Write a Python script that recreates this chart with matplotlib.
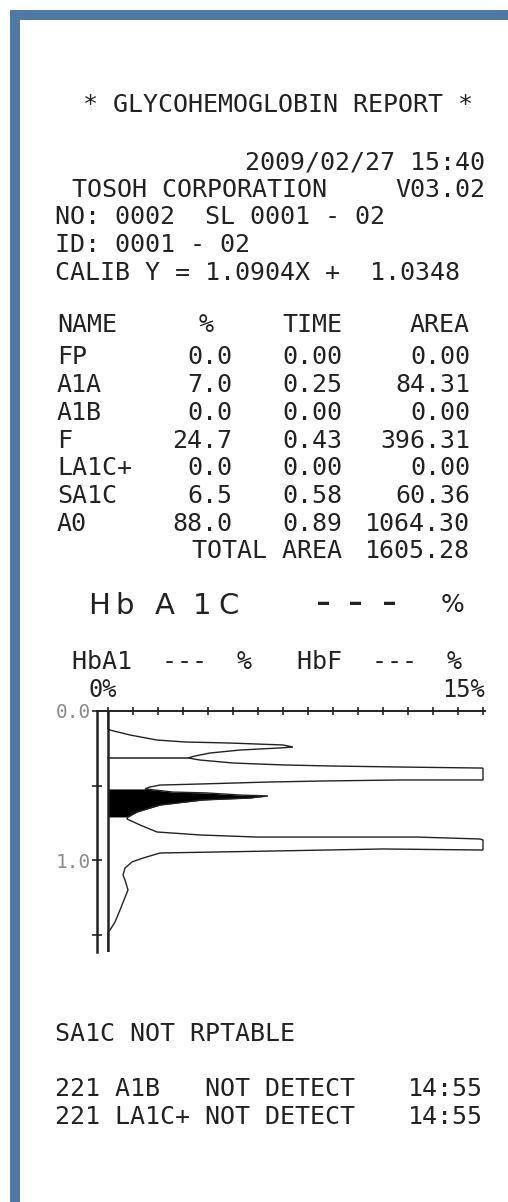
import numpy as np
import matplotlib
matplotlib.use("Agg")
import matplotlib.pyplot as plt

# ---- report text ----
report_title = "* GLYCOHEMOGLOBIN REPORT *"
run_stamp = "2009/02/27 15:40"
maker = "TOSOH CORPORATION"
version = "V03.02"
sample_lines = ["NO: 0002  SL 0001 - 02", "ID: 0001 - 02", "CALIB Y = 1.0904X +  1.0348"]

table_cols = ["NAME", "%", "TIME", "AREA"]
peak_names = ["FP", "A1A", "A1B", "F", "LA1C+", "SA1C", "A0"]
peak_pct = [0.0, 7.0, 0.0, 24.7, 0.0, 6.5, 88.0]
peak_time = [0.00, 0.25, 0.00, 0.43, 0.00, 0.58, 0.89]
peak_area = [0.00, 84.31, 0.00, 396.31, 0.00, 60.36, 1064.30]
total_area = 1605.28

big_label = "HbA1C"
big_value = "---"
sub_parts = ["HbA1  ---  %", "HbF  ---  %"]
scale_labels = ["0%", "15%"]
time_ticks = [0.0, 0.5, 1.0, 1.5]
time_labels = ["0.0", "", "1.0", ""]

footer_note = "SA1C NOT RPTABLE"
error_msgs = ["221 A1B   NOT DETECT", "221 LA1C+ NOT DETECT"]
error_times = ["14:55", "14:55"]

# ---- chromatogram trace (time in min, signal 0-15 scale) ----
trace_time = [0.000, 0.121, 0.128, 0.161, 0.195, 0.208, 0.215, 0.228, 0.242, 0.248,
              0.262, 0.282, 0.302, 0.315, 0.329, 0.349, 0.362, 0.369, 0.376, 0.383,
              0.463, 0.463, 0.470, 0.477, 0.490, 0.497, 0.510, 0.523, 0.544, 0.550,
              0.564, 0.570, 0.584, 0.597, 0.631, 0.678, 0.711, 0.725, 0.765, 0.812,
              0.832, 0.846, 0.846, 0.859, 0.866, 0.933, 0.926, 0.940, 0.953, 0.987,
              1.013, 1.054, 1.101, 1.134, 1.201, 1.268, 1.336, 1.416, 1.470, 1.483,
              1.617]
trace_signal = [0.00, 0.00, 0.08, 0.88, 1.96, 3.08, 4.88, 7.00, 7.40, 6.88,
                5.28, 4.08, 3.48, 3.20, 3.68, 5.00, 7.00, 8.88, 11.68, 15.00,
                15.00, 11.68, 8.48, 6.36, 3.68, 2.08, 1.68, 1.48, 2.60, 3.96,
                5.28, 6.40, 5.68, 3.80, 2.08, 1.16, 0.80, 0.76, 1.28, 1.96,
                3.68, 5.96, 12.36, 14.88, 15.00, 15.00, 11.00, 6.48, 2.08, 1.40,
                0.96, 0.68, 0.60, 0.68, 0.80, 0.64, 0.48, 0.28, 0.08, 0.00,
                0.00]
sa1c_window = (0.523, 0.711)
drop_line_times = [0.315]

INK = "#222222"
BORDER = "#4e79a5"
MONO = "DejaVu Sans Mono"
SANS = "DejaVu Sans"
FS = 18
W, H = 508, 1202


def cap_px(size, ratio=0.729):
    return ratio * size * 100 / 72


def put(ax, x, yc, s, ha="left", size=FS, family=MONO, color=INK):
    ax.text(x, yc + cap_px(size) / 2, s, ha=ha, va="baseline", fontsize=size,
            family=family, color=color)


fig = plt.figure(figsize=(W / 100, H / 100), dpi=100)
bg = fig.add_axes([0, 0, 1, 1])
bg.set_xlim(0, W)
bg.set_ylim(H, 0)
bg.axis("off")

# blue frame on the top and left
bg.add_patch(plt.Rectangle((10, 10), W - 10, 10, color=BORDER, lw=0))
bg.add_patch(plt.Rectangle((10, 10), 10, H - 10, color=BORDER, lw=0))

# ── header ──────────────────────────────────────
put(bg, 278, 103, report_title, ha="center")
put(bg, 485, 160, run_stamp, ha="right")
put(bg, 72, 188, maker)
put(bg, 485, 188, version, ha="right")
for i, line in enumerate(sample_lines):
    put(bg, 55, 215 + i * 28, line)

# ── result table ────────────────────────────────
put(bg, 57, 323, table_cols[0])
put(bg, 206, 323, table_cols[1], ha="center")
put(bg, 342, 323, table_cols[2], ha="right")
put(bg, 470, 323, table_cols[3], ha="right")
for i, name in enumerate(peak_names):
    y = 355 + i * 27.8
    put(bg, 57, y, name)
    put(bg, 232, y, f"{peak_pct[i]:.1f}", ha="right")
    put(bg, 342, y, f"{peak_time[i]:.2f}", ha="right")
    put(bg, 470, y, f"{peak_area[i]:.2f}", ha="right")
put(bg, 342, 549, "TOTAL AREA", ha="right")
put(bg, 470, 549, f"{total_area:.2f}", ha="right")

# ── HbA1C line (double-width print) ─────────────
big_centers = [99, 125, 165, 202, 229]
for ch, xc in zip(big_label, big_centers):
    put(bg, xc, 603, ch, ha="center", size=21, family=SANS)
dash_size = 30
for k, ch in enumerate(big_value):
    bg.text(323 + k * 33, 603 + 0.29 * dash_size * 100 / 72, ch, ha="center",
            va="baseline", fontsize=dash_size, family=SANS, color=INK)
put(bg, 453, 603, "%", ha="center", size=18, family=SANS)

put(bg, 72, 660, sub_parts[0])
put(bg, 297, 660, sub_parts[1])
put(bg, 88, 688, scale_labels[0], size=17)
put(bg, 485, 688, scale_labels[1], ha="right", size=17)

# ── chromatogram ────────────────────────────────
px0, px1, py0, py1 = 97, 485, 711, 952
ax = fig.add_axes([px0 / W, 1 - py1 / H, (px1 - px0) / W, (py1 - py0) / H])
ax.set_xlim(-11 / 25, (px1 - 108) / 25)
ax.set_ylim((py1 - py0) / 149, 0)
ax.patch.set_alpha(0)
for side in ("bottom", "right"):
    ax.spines[side].set_visible(False)
ax.spines["top"].set_linewidth(1.4)
ax.spines["left"].set_linewidth(1.8)
ax.spines["top"].set_color(INK)
ax.spines["left"].set_color(INK)

ax.xaxis.tick_top()
ax.set_xticks(np.arange(0, 16, 1))
ax.tick_params(axis="x", which="major", direction="inout", length=6, width=1.2,
               color=INK, labeltop=False, labelbottom=False)
ax.set_xticks([5, 10, 15], minor=True)
ax.tick_params(axis="x", which="minor", direction="inout", length=9, width=1.2, color=INK)

ax.set_yticks(time_ticks)
ax.set_yticklabels(time_labels, family=MONO, fontsize=14, color="#8a8a8a")
ax.tick_params(axis="y", direction="inout", length=7, width=1.2, color=INK, pad=1)

ax.axvline(0, color=INK, lw=1.8)

t = np.array(trace_time)
s = np.array(trace_signal)
ax.plot(s, t, color=INK, lw=1.0, solid_joinstyle="miter")

mask = (t >= sa1c_window[0]) & (t <= sa1c_window[1])
ax.fill_betweenx(t[mask], 0, s[mask], color="black", lw=0)

for td in drop_line_times:
    idx = trace_time.index(td)
    ax.plot([0, trace_signal[idx]], [td, td], color=INK, lw=1.1)

# ── footer ──────────────────────────────────────
put(bg, 55, 1032, footer_note)
for i, (msg, tm) in enumerate(zip(error_msgs, error_times)):
    put(bg, 55, 1087 + i * 28, msg)
    put(bg, 483, 1087 + i * 28, tm, ha="right")

fig.savefig("out.png", dpi=100, facecolor="white")
